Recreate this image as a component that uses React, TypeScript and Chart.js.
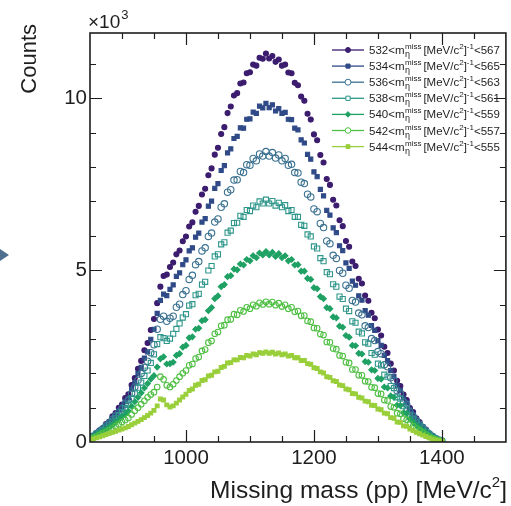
import React, { useEffect, useRef } from 'react';
import { Chart, registerables } from 'chart.js';
import { drawPoint } from 'chart.js/helpers';
Chart.register(...registerables);

// ---- data (counts per 5 MeV bin, first bin at 850 MeV/c^2) ----
const MASS_START = 850;
const MASS_STEP = 5;
const X_MIN = 850;
const X_MAX = 1500;
const Y_MIN = 0;
const Y_MAX = 11900;
const X_TICKS = [1000, 1200, 1400];
const Y_TICKS = [0, 5000, 10000];
const WIN_LO = [532, 534, 536, 538, 540, 542, 544];
const WIN_HI = [567, 565, 563, 561, 559, 557, 555];

const S532 = [
  100, 180, 240, 340, 395, 520, 590, 745, 840, 995,
  1090, 1280, 1390, 1660, 1860, 2130, 2360, 2670, 2880, 3260,
  3580, 4040, 4520, 4830, 4870, 5090, 5220, 5460, 5570, 5840,
  5980, 6270, 6390, 6700, 6870, 7200, 7370, 7760, 7960, 8360,
  8560, 8960, 9160, 9570, 9760, 10080, 10150, 10430, 10460, 10730,
  10760, 10980, 10950, 11180, 11150, 11300, 11160, 11230, 11060, 11130,
  10950, 10980, 10750, 10730, 10450, 10380, 10050, 9930, 9550, 9380,
  8950, 8780, 8350, 8130, 7650, 7480, 7050, 6880, 6450, 6280,
  5850, 5680, 5250, 5120, 4750, 4610, 4260, 4110, 3760, 3600,
  3270, 3100, 2770, 2590, 2280, 2080, 1780, 1630, 1380, 1220,
  990, 870, 690, 580, 440, 360, 245, 175, 100, 55,
  20,
];
const S534 = [
  100, 170, 235, 320, 385, 480, 570, 690, 800, 910,
  1030, 1180, 1280, 1540, 1720, 1990, 2170, 2440, 2620, 2990,
  3280, 3740, 4120, 4300, 4260, 4440, 4570, 4820, 4920, 5160,
  5300, 5560, 5650, 5960, 6080, 6400, 6500, 6860, 7010, 7380,
  7520, 7900, 8040, 8410, 8530, 8830, 8890, 9140, 9130, 9390,
  9400, 9600, 9560, 9770, 9720, 9850, 9730, 9810, 9630, 9700,
  9560, 9590, 9390, 9380, 9130, 9080, 8790, 8700, 8370, 8230,
  7860, 7720, 7350, 7160, 6740, 6600, 6230, 6090, 5710, 5570,
  5210, 5050, 4680, 4560, 4250, 4130, 3820, 3690, 3390, 3250,
  2950, 2810, 2520, 2370, 2080, 1910, 1640, 1500, 1280, 1140,
  940, 800, 660, 540, 430, 330, 240, 170, 100, 55,
  20,
];
const S536 = [
  105, 165, 245, 310, 385, 470, 550, 660, 760, 860,
  970, 1110, 1220, 1420, 1600, 1800, 1990, 2170, 2350, 2600,
  2830, 3280, 3570, 3660, 3510, 3600, 3660, 3920, 4010, 4290,
  4400, 4730, 4850, 5160, 5250, 5560, 5650, 5980, 6080, 6400,
  6490, 6830, 6930, 7270, 7340, 7620, 7630, 7870, 7840, 8070,
  8050, 8250, 8180, 8380, 8320, 8450, 8320, 8420, 8260, 8350,
  8180, 8250, 8050, 8080, 7840, 7830, 7560, 7520, 7210, 7130,
  6780, 6700, 6360, 6240, 5850, 5770, 5430, 5340, 4990, 4910,
  4560, 4470, 4120, 4070, 3750, 3700, 3380, 3330, 3010, 2950,
  2630, 2570, 2250, 2190, 1870, 1790, 1490, 1420, 1170, 1090,
  880, 750, 630, 520, 420, 330, 240, 170, 105, 60,
  30,
];
const S538 = [
  100, 150, 225, 280, 350, 420, 500, 600, 690, 780,
  870, 990, 1080, 1260, 1410, 1580, 1730, 1920, 2080, 2300,
  2550, 2850, 3050, 3020, 2940, 3010, 3150, 3290, 3450, 3620,
  3720, 3970, 4010, 4270, 4310, 4580, 4660, 4990, 5120, 5400,
  5460, 5750, 5810, 6090, 6150, 6370, 6380, 6580, 6550, 6750,
  6720, 6880, 6830, 7000, 6940, 7050, 6940, 7010, 6880, 6960,
  6830, 6890, 6720, 6750, 6550, 6550, 6320, 6290, 6040, 5980,
  5690, 5630, 5350, 5260, 4940, 4880, 4590, 4520, 4230, 4160,
  3880, 3810, 3510, 3470, 3210, 3160, 2900, 2860, 2590, 2540,
  2280, 2230, 1960, 1900, 1630, 1570, 1300, 1260, 1040, 970,
  790, 680, 570, 480, 390, 300, 220, 160, 100, 55,
  25,
];
const S540 = [
  90, 140, 200, 260, 310, 370, 430, 500, 580, 650,
  730, 810, 900, 1040, 1170, 1300, 1430, 1570, 1700, 1830,
  1930, 2180, 2420, 2480, 2270, 2280, 2320, 2520, 2570, 2760,
  2810, 3030, 3060, 3280, 3310, 3530, 3560, 3820, 3910, 4170,
  4250, 4520, 4580, 4810, 4840, 5030, 5010, 5180, 5150, 5310,
  5270, 5420, 5360, 5500, 5440, 5540, 5440, 5520, 5400, 5480,
  5360, 5420, 5270, 5310, 5150, 5160, 4970, 4970, 4760, 4730,
  4490, 4460, 4230, 4170, 3910, 3880, 3640, 3610, 3370, 3340,
  3100, 3050, 2810, 2800, 2580, 2560, 2340, 2320, 2100, 2080,
  1850, 1830, 1600, 1570, 1340, 1300, 1070, 1060, 850, 830,
  670, 580, 490, 410, 340, 270, 200, 140, 90, 50,
  25,
];
const S542 = [
  77, 120, 160, 205, 250, 295, 340, 400, 460, 520,
  580, 640, 700, 800, 910, 1000, 1100, 1200, 1300, 1380,
  1450, 1600, 1900, 1820, 1650, 1600, 1680, 1790, 1900, 2000,
  2080, 2230, 2270, 2430, 2470, 2650, 2690, 2890, 2940, 3150,
  3200, 3380, 3400, 3560, 3570, 3720, 3700, 3830, 3800, 3920,
  3880, 3990, 3950, 4050, 4000, 4080, 4010, 4070, 3980, 4040,
  3940, 3990, 3880, 3920, 3790, 3810, 3670, 3680, 3520, 3500,
  3320, 3310, 3140, 3110, 2910, 2900, 2720, 2700, 2520, 2500,
  2320, 2300, 2110, 2110, 1940, 1940, 1770, 1760, 1590, 1580,
  1410, 1400, 1220, 1210, 1030, 1010, 840, 820, 680, 650,
  530, 460, 390, 330, 270, 210, 160, 110, 77, 45,
  20,
];
const S544 = [
  50, 90, 120, 150, 180, 215, 250, 280, 310, 345,
  380, 410, 450, 500, 550, 600, 650, 710, 770, 840,
  920, 1050, 1250, 1220, 1080, 1020, 1050, 1130, 1220, 1310,
  1390, 1500, 1540, 1650, 1680, 1790, 1810, 1920, 1940, 2040,
  2060, 2170, 2200, 2300, 2310, 2390, 2390, 2460, 2450, 2520,
  2500, 2560, 2540, 2600, 2580, 2620, 2580, 2610, 2560, 2590,
  2540, 2560, 2500, 2520, 2450, 2450, 2370, 2370, 2280, 2260,
  2160, 2140, 2040, 2010, 1900, 1880, 1780, 1760, 1660, 1640,
  1540, 1520, 1410, 1400, 1300, 1280, 1190, 1170, 1070, 1060,
  960, 940, 840, 820, 710, 690, 580, 570, 470, 460,
  380, 330, 280, 240, 200, 160, 120, 90, 60, 40,
  20,
];

const SERIES = [S532, S534, S536, S538, S540, S542, S544];
const COLORS = ['#3b1c6e', '#2f4a87', '#3a7190', '#2e968a', '#1fa164', '#4fbf43', '#99cf3a'];
const STYLES = [
  { pointStyle: 'circle', radius: 2.5, fill: true },
  { pointStyle: 'rect', radius: 2.9, fill: true },
  { pointStyle: 'circle', radius: 3.2, fill: false },
  { pointStyle: 'rect', radius: 3.6, fill: false },
  { pointStyle: 'rectRot', radius: 2.8, fill: true },
  { pointStyle: 'circle', radius: 2.8, fill: false },
  { pointStyle: 'rect', radius: 2.7, fill: true },
];

const FONT = '"Liberation Sans", Arial, Helvetica, sans-serif';

const decorPlugin = {
  id: 'decor',
  afterDraw(chart: any) {
    const { ctx, chartArea: ca, scales } = chart;
    const xs = scales.x;
    const ys = scales.y;
    ctx.save();
    // frame
    ctx.strokeStyle = '#1e1e1e';
    ctx.lineWidth = 1.6;
    ctx.strokeRect(ca.left, ca.top, ca.right - ca.left, ca.bottom - ca.top);
    ctx.lineWidth = 1.2;
    // x ticks (bottom + top)
    for (let v = X_MIN + 50; v < X_MAX; v += 50) {
      const px = Math.round(xs.getPixelForValue(v)) + 0.5;
      const len = v % 200 === 0 ? 12 : 6;
      ctx.beginPath();
      ctx.moveTo(px, ca.bottom);
      ctx.lineTo(px, ca.bottom - len);
      ctx.moveTo(px, ca.top);
      ctx.lineTo(px, ca.top + len);
      ctx.stroke();
    }
    // y ticks (left + right)
    for (let v = Y_MIN + 1000; v < Y_MAX; v += 1000) {
      const py = Math.round(ys.getPixelForValue(v)) + 0.5;
      const len = v % 5000 === 0 ? 12 : 6;
      ctx.beginPath();
      ctx.moveTo(ca.left, py);
      ctx.lineTo(ca.left + len, py);
      ctx.moveTo(ca.right, py);
      ctx.lineTo(ca.right - len, py);
      ctx.stroke();
    }
    // exponent label
    ctx.fillStyle = '#1e1e1e';
    ctx.textBaseline = 'alphabetic';
    ctx.textAlign = 'left';
    ctx.font = `19px ${FONT}`;
    ctx.fillText('\u00d710', 88, 28);
    const w10 = ctx.measureText('\u00d710').width;
    ctx.font = `13px ${FONT}`;
    ctx.fillText('3', 88 + w10 + 1, 19);
    // axis titles
    ctx.textAlign = 'left';
    ctx.font = `24.5px ${FONT}`;
    const xt1 = 'Missing mass (pp) [MeV/c';
    const w1 = ctx.measureText(xt1).width;
    ctx.font = `15px ${FONT}`;
    const w2 = ctx.measureText('2').width;
    ctx.font = `24.5px ${FONT}`;
    const w3 = ctx.measureText(']').width;
    const xStart = 507 - (w1 + w2 + w3);
    ctx.fillText(xt1, xStart, 498);
    ctx.font = `15px ${FONT}`;
    ctx.fillText('2', xStart + w1, 487);
    ctx.font = `24.5px ${FONT}`;
    ctx.fillText(']', xStart + w1 + w2, 498);
    ctx.save();
    ctx.translate(36, 24);
    ctx.rotate(-Math.PI / 2);
    ctx.textAlign = 'right';
    ctx.textBaseline = 'alphabetic';
    ctx.font = `22px ${FONT}`;
    ctx.fillText('Counts', 0, 0);
    ctx.restore();
    // legend
    const rowY0 = 50;
    const rowDY = 16.1;
    for (let i = 0; i < SERIES.length; i++) {
      const y = rowY0 + i * rowDY;
      const st = STYLES[i];
      ctx.strokeStyle = COLORS[i];
      ctx.lineWidth = 1.3;
      ctx.beginPath();
      ctx.moveTo(332, y);
      ctx.lineTo(364, y);
      ctx.stroke();
      ctx.fillStyle = st.fill ? COLORS[i] : 'rgba(255,255,255,1)';
      ctx.strokeStyle = COLORS[i];
      ctx.lineWidth = 1;
      drawPoint(ctx, { pointStyle: st.pointStyle, radius: Math.min(st.radius, 3), rotation: 0, borderWidth: 1 }, 348, y);
      // text
      ctx.fillStyle = '#1e1e1e';
      ctx.textAlign = 'left';
      ctx.textBaseline = 'alphabetic';
      let x = 369;
      const base = y + 4;
      ctx.font = `11.5px ${FONT}`;
      const t1 = `${WIN_LO[i]}<m`;
      ctx.fillText(t1, x, base);
      x += ctx.measureText(t1).width + 0.5;
      ctx.font = `8px ${FONT}`;
      ctx.fillText('miss', x, base - 5);
      const wMiss = ctx.measureText('miss').width;
      ctx.font = `9px ${FONT}`;
      ctx.fillText('\u03b7', x, base + 3);
      x += wMiss + 2;
      ctx.font = `11.5px ${FONT}`;
      const t2 = '[MeV/c';
      ctx.fillText(t2, x, base);
      x += ctx.measureText(t2).width;
      ctx.font = `8px ${FONT}`;
      ctx.fillText('2', x, base - 5);
      x += ctx.measureText('2').width;
      ctx.font = `11.5px ${FONT}`;
      ctx.fillText(']', x, base);
      x += ctx.measureText(']').width;
      ctx.font = `8px ${FONT}`;
      ctx.fillText('-1', x, base - 5);
      x += ctx.measureText('-1').width;
      ctx.font = `11.5px ${FONT}`;
      ctx.fillText(`<${WIN_HI[i]}`, x, base);
    }
    // slide arrow fragment at left edge
    ctx.fillStyle = '#4f6f8f';
    ctx.beginPath();
    ctx.moveTo(0, 249);
    ctx.lineTo(9, 255);
    ctx.lineTo(0, 261);
    ctx.closePath();
    ctx.fill();
    ctx.restore();
  },
};

export default function App() {
  const ref = useRef<HTMLCanvasElement | null>(null);
  useEffect(() => {
    if (!ref.current) return;
    const datasets = SERIES.map((vals, i) => ({
      label: `${WIN_LO[i]}-${WIN_HI[i]}`,
      data: vals.map((v, k) => ({ x: MASS_START + k * MASS_STEP, y: v })),
      showLine: false,
      pointStyle: STYLES[i].pointStyle as any,
      pointRadius: STYLES[i].radius,
      pointBorderWidth: 1.1,
      borderColor: COLORS[i],
      backgroundColor: STYLES[i].fill ? COLORS[i] : 'rgba(255,255,255,0)',
      order: SERIES.length - 1 - i,
    }));
    const chart = new Chart(ref.current, {
      type: 'scatter',
      data: { datasets },
      plugins: [decorPlugin],
      options: {
        responsive: false,
        animation: false,
        events: [],
        layout: { padding: { top: 33, right: 5, left: 0, bottom: 0 } },
        plugins: { legend: { display: false }, tooltip: { enabled: false } },
        scales: {
          x: {
            type: 'linear',
            min: X_MIN,
            max: X_MAX,
            afterBuildTicks: (s: any) => { s.ticks = X_TICKS.map((v) => ({ value: v })); },
            afterFit: (s: any) => { s.height = 64; },
            grid: { display: false, drawTicks: false },
            border: { display: false },
            ticks: {
              color: '#1e1e1e',
              font: { family: FONT, size: 20.5 },
              padding: 4,
              maxRotation: 0,
              callback: (v: any) => String(v),
            },
          },
          y: {
            type: 'linear',
            min: Y_MIN,
            max: Y_MAX,
            afterBuildTicks: (s: any) => { s.ticks = Y_TICKS.map((v) => ({ value: v })); },
            afterFit: (s: any) => { s.width = 90; },
            grid: { display: false, drawTicks: false },
            border: { display: false },
            ticks: {
              color: '#1e1e1e',
              font: { family: FONT, size: 20.5 },
              padding: 3,
              callback: (v: any) => String(Number(v) / 1000),
            },
          },
        },
      },
    });
    return () => chart.destroy();
  }, []);
  return (
    <div style={{ position: 'fixed', left: 0, top: 0, width: 511, height: 506, background: '#fff' }}>
      <canvas ref={ref} width={511} height={506} />
    </div>
  );
}
